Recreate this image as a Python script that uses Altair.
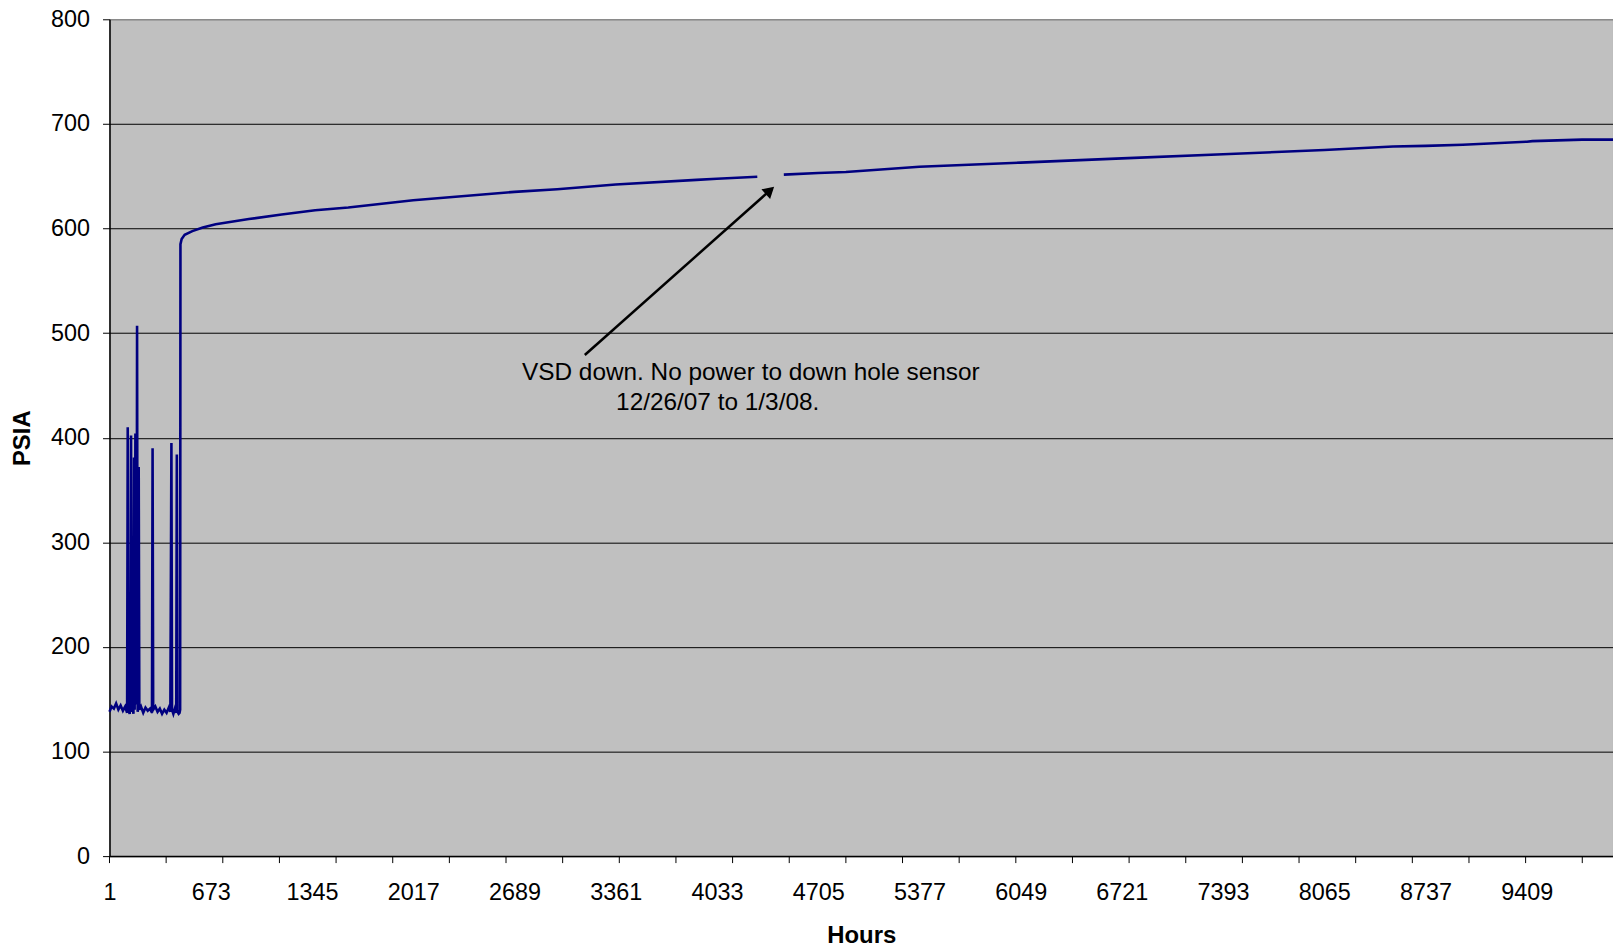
import altair as alt
import pandas as pd

# ---- data ----
hours = [1, 15, 30, 45, 60, 75, 90, 105, 118, 122, 126, 135, 140, 144, 148, 155, 160, 164, 168,
         173, 177, 181, 184, 188, 192, 195, 199, 210, 225, 240, 255, 270, 283, 287, 291, 305,
         320, 335, 350, 365, 380, 395, 405, 412, 416, 425, 435, 444, 448, 452, 460, 466, 470,
         472, 480, 500, 551, 620, 706, 926, 1144, 1366, 1586, 2017, 2689, 2973, 3361, 3898,
         4033, 4301,
         4477, 4705, 4889, 5377, 6049, 6721, 7393, 8065, 8521, 8737, 8984, 9409, 9446, 9777, 9981]
psia = [138, 143, 141, 146, 140, 144, 139, 143, 137, 410, 140, 136, 150, 402, 138, 142, 136, 381, 140,
        404, 150, 145, 507, 138, 142, 372, 140, 143, 137, 142, 139, 141, 137, 390, 140, 143,
        138, 141, 136, 140, 137, 142, 138, 395, 140, 136, 141, 137, 384, 138, 136, 137, 140,
        585, 590, 594, 597.5, 601, 604, 609, 613.4, 617.5, 620, 627, 635, 637.5, 642, 646.5,
        647.5, 649.5,
        651.5, 653, 654, 659, 663, 667, 671, 675, 678.4, 679, 680, 683, 683.5, 685, 685]
gap_start = 4301  # sensor without power (12/26/07 to 1/3/08)

label_hours = [1, 673, 1345, 2017, 2689, 3361, 4033, 4705, 5377, 6049, 6721, 7393, 8065, 8737, 9409]
tick_hours = [1, 377, 753, 1129, 1505, 1881, 2257, 2633, 3009, 3385, 3761, 4137, 4513, 4889,
              5265, 5641, 6017, 6393, 6769, 7145, 7521, 7897, 8273, 8649, 9025, 9401, 9777]
y_ticks = [0, 100, 200, 300, 400, 500, 600, 700, 800]

note_lines = ["VSD down. No power to down hole sensor", "12/26/07 to 1/3/08."]
note_hours = [4258, 4038]
note_psia = [454.7, 426.8]

arrow_from = (3156, 479.1)
arrow_to = (4385, 636.4)

W, H = 1511, 841
FONT = "Liberation Sans"

df = pd.DataFrame({"hours": hours, "psia": psia})
df["segment"] = (df["hours"] > gap_start).astype(int)

x_scale = alt.Scale(domain=[1, 9981], nice=False, zero=False)
y_scale = alt.Scale(domain=[0, 800], nice=False, zero=True)

line = alt.Chart(df).mark_line(color="#000080", strokeWidth=2.6).encode(
    x=alt.X("hours:Q", scale=x_scale,
            axis=alt.Axis(values=label_hours, title="Hours", ticks=False, tickSize=0,
                          labelPadding=25, grid=False, labelFontSize=23.5, labelFont=FONT,
                          labelColor="black", format="d", labelFlush=False, labelOverlap=False,
                          titleFont=FONT, titleFontSize=24, titleFontWeight="bold",
                          titleColor="black", titleY=87, titleBaseline="alphabetic",
                          domainColor="black", domainWidth=1.5)),
    y=alt.Y("psia:Q", scale=y_scale,
            axis=alt.Axis(values=y_ticks, title="PSIA", tickSize=7, tickColor="black",
                          labelPadding=13, labelFontSize=23.5, labelFont=FONT,
                          labelColor="black", format="d",
                          grid=True,
                          gridColor={"condition": {"test": "datum.value === 800", "value": "#808080"},
                                     "value": "black"},
                          gridWidth=1, domainColor="black", domainWidth=1.5,
                          titleFont=FONT, titleFontSize=24, titleFontWeight="bold",
                          titleColor="black", titleAngle=270, titleX=-87, titleY=420.5,
                          titleAlign="center", titleBaseline="middle")),
    detail="segment:N",
)

ticks = alt.Chart(pd.DataFrame({"hours": tick_hours})).mark_rule(color="black", strokeWidth=1).encode(
    x="hours:Q",
    y=alt.value(H),
    y2=alt.value(H + 7),
)

arrow_df = pd.DataFrame({"hours": [arrow_from[0]], "psia": [arrow_from[1]],
                         "hours2": [arrow_to[0]], "psia2": [arrow_to[1]]})
arrow = alt.Chart(arrow_df).mark_rule(color="black", strokeWidth=2.5).encode(
    x="hours:Q", x2="hours2:Q", y="psia:Q", y2="psia2:Q",
)
head_df = pd.DataFrame({"hours": [arrow_to[0]], "psia": [arrow_to[1]]})
head = alt.Chart(head_df).mark_point(shape="triangle-up", filled=True, size=170, angle=48,
                                     color="black", opacity=1).encode(
    x="hours:Q", y="psia:Q",
)

notes = alt.Chart(pd.DataFrame({"hours": note_hours, "psia": note_psia, "t": note_lines})).mark_text(
    font=FONT, fontSize=24.5, color="black", align="center", baseline="alphabetic"
).encode(
    x="hours:Q", y="psia:Q", text="t:N",
)

chart = alt.layer(line, ticks, arrow, head, notes).properties(
    width=W, height=H,
    autosize=alt.AutoSizeParams(type="none"),
    padding={"left": 102, "top": 9, "right": 0, "bottom": 93},
    background="white",
).configure_view(fill="#C0C0C0", stroke="#808080", strokeWidth=1)

chart.save("out.html", embed_options={"renderer": "svg", "actions": False})
